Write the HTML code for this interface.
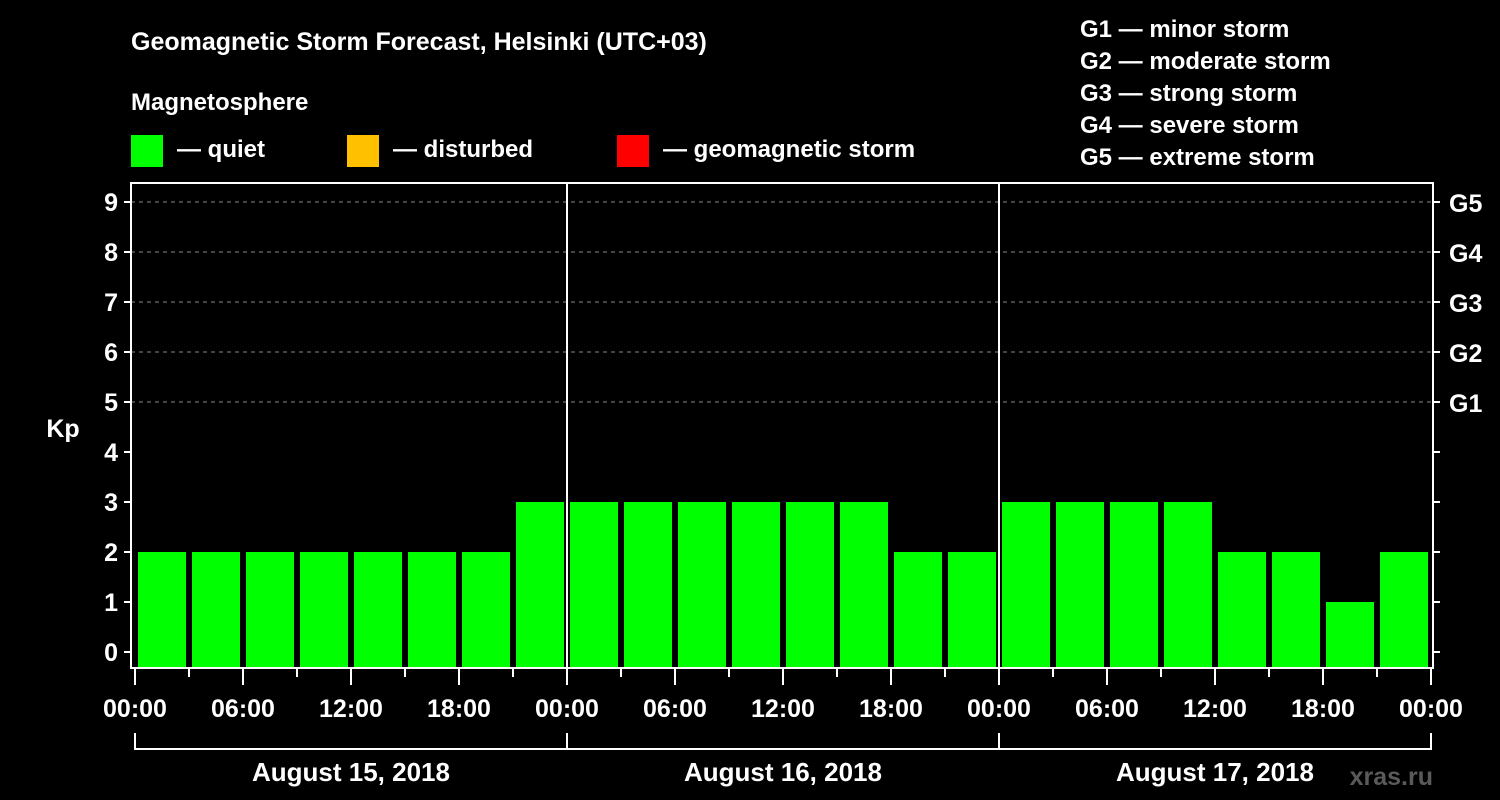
<!DOCTYPE html>
<html><head><meta charset="utf-8"><style>
body{margin:0;background:#000;width:1500px;height:800px;overflow:hidden}
svg{display:block}
text{font-family:"Liberation Sans",Arial,sans-serif;font-weight:bold;fill:#fff}
</style></head><body>
<svg id="c" width="1500" height="800">
<text x="131" y="50" font-size="25">Geomagnetic Storm Forecast, Helsinki (UTC+03)</text>
<text x="131" y="110" font-size="24">Magnetosphere</text>
<g><rect x="131" y="135" width="32" height="32" fill="#00ff00"/><text x="177" y="157" font-size="24">— quiet</text></g>
<g><rect x="347" y="135" width="32" height="32" fill="#ffc000"/><text x="393" y="157" font-size="24">— disturbed</text></g>
<g><rect x="617" y="135" width="32" height="32" fill="#ff0000"/><text x="663" y="157" font-size="24">— geomagnetic storm</text></g>
<g font-size="24">
<text x="1080" y="37">G1 — minor storm</text>
<text x="1080" y="69">G2 — moderate storm</text>
<text x="1080" y="101">G3 — strong storm</text>
<text x="1080" y="133">G4 — severe storm</text>
<text x="1080" y="165">G5 — extreme storm</text>
</g>
<text x="63" y="437" font-size="25" text-anchor="middle">Kp</text>
<text x="1433" y="785" font-size="25" text-anchor="end" fill="#555" style="fill:#5a5a5a">xras.ru</text>
<g id="grid"></g><g id="bars"></g><g id="axes"></g>
</svg>
<script>
const kpValues=[2,2,2,2,2,2,2,3, 3,3,3,3,3,3,2,2, 3,3,3,3,2,2,1,2];
const yTicks=[0,1,2,3,4,5,6,7,8,9];
const gLabels=["G1","G2","G3","G4","G5"];
const xTickLabels=["00:00","06:00","12:00","18:00"];
const dayLabels=["August 15, 2018","August 16, 2018","August 17, 2018"];
const NS="http://www.w3.org/2000/svg";
const L=131,R=1433,T=183,B=668,X0=135,PX=54;
const y=v=>652-v*50;
const x=i=>X0+i*PX;
function mk(tag,attrs,parent,txt){const e=document.createElementNS(NS,tag);for(const k in attrs)e.setAttribute(k,attrs[k]);if(txt!=null)e.textContent=txt;document.getElementById(parent).appendChild(e);return e;}
yTicks.forEach(v=>{
 if(v>=5){const g=mk('line',{x1:L,x2:R,y1:y(v),y2:y(v),stroke:'#888','stroke-dasharray':'4,4','stroke-width':1},'grid');
 
 }
 const t=mk('line',{x1:L-7,x2:L,y1:y(v),y2:y(v),stroke:'#fff','stroke-width':2},'axes');
 
 
 const t2=mk('line',{x1:R,x2:R+7,y1:y(v),y2:y(v),stroke:'#fff','stroke-width':2},'axes');
 
 
 const l=mk('text',{x:L-13,y:y(v)+9,'font-size':25,'text-anchor':'end'},'axes',v);
 
 
});
gLabels.forEach((g,i)=>{
 const l=mk('text',{x:1449,y:y(i+5)+10,'font-size':25},'axes',g);
 
 
});
kpValues.forEach((v,i)=>{
 const c=v>=5?'#ff0000':(v>=4?'#ffc000':'#00ff00');
 const r=mk('rect',{x:x(i)+3,y:y(v),width:48,height:B-y(v),fill:c},'bars');
 
 
});
const f=mk('rect',{x:L,y:T,width:R-L,height:B-T,fill:'none',stroke:'#fff','stroke-width':2},'axes');


for(let i=0;i<=kpValues.length;i++){
 const major=i%2==0;
 const tk=mk('line',{x1:x(i),x2:x(i),y1:B,y2:B+(major?17:9),stroke:'#fff','stroke-width':2},'axes');
 
 
 if(major){
  const lb=mk('text',{x:x(i),y:717,'font-size':25,'text-anchor':'middle'},'axes',xTickLabels[(i/2)%4]);
  
  
 }
}
dayLabels.forEach((d,k)=>{
 const x1=x(k*8),x2=x(k*8+8);
 if(k>0){const dv=mk('line',{x1:x1,x2:x1,y1:T,y2:B,stroke:'#fff','stroke-width':2},'axes');
 
 }
 const br=mk('path',{d:`M${x1},733V749H${x2}V733`,stroke:'#fff','stroke-width':2,fill:'none'},'axes');
 
 
 const t=mk('text',{x:(x1+x2)/2,y:781,'font-size':26,'text-anchor':'middle'},'axes',d);
 
 
});
</script>
</body></html>
